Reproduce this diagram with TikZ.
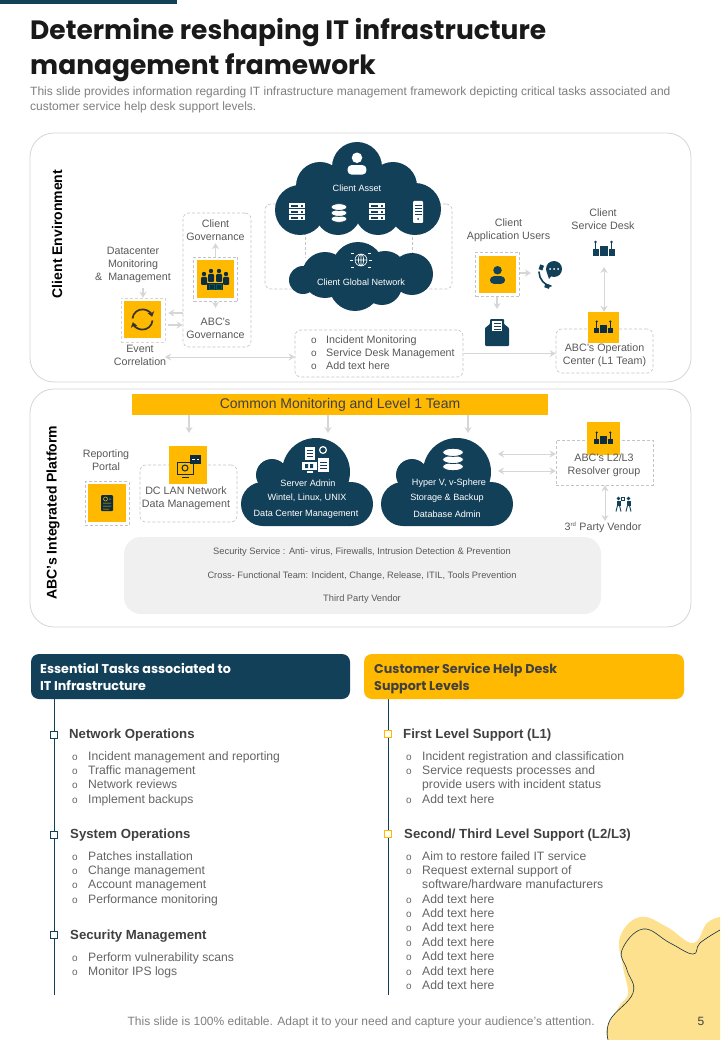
\documentclass[tikz,border=0pt]{standalone}
\usepackage{fontspec}
\setmainfont{Liberation Sans}
\newfontfamily\headfont{Poppins}
\usetikzlibrary{arrows.meta,positioning}
\definecolor{navy}{HTML}{134059}
\definecolor{gold}{HTML}{FFB900}
\definecolor{blob}{HTML}{FDE18F}
\definecolor{lightline}{HTML}{D6D6D6}
\definecolor{dashline}{HTML}{C4C4C4}
\definecolor{ink}{HTML}{404040}
\definecolor{midgray}{HTML}{595959}
\definecolor{softgray}{HTML}{7F7F7F}
\definecolor{padgray}{HTML}{F0F0F0}
\newcommand{\bul}{\makebox[16pt][l]{\fontsize{10}{10}\selectfont o}}
\tikzset{
  pics/person/.style={code={
    \fill[#1] (0,-5) circle (5);
    \fill[#1,rounded corners=4pt] (-9,11) -- (-9,2) -- (9,2) -- (9,11) -- cycle;
  }},
  pics/dbstack/.style={code={
    \foreach \yy in {7,0,-7} \filldraw[fill=#1,draw=navy,line width=.8pt] (0,\yy) ellipse (8 and 4);
  }},
  pics/rack/.style={code={
    \foreach \yy in {-6,0,6} {
      \fill[#1] (-8,\yy-2.5) rectangle (8,\yy+2.5);
      \fill[navy] (-6,\yy-1) rectangle (1,\yy+1);
      \fill[navy] (4,\yy-1) rectangle (6,\yy+1);
    }
  }},
  pics/towerbox/.style={code={
    \fill[#1,rounded corners=1pt] (-5,-11) rectangle (5,11);
    \foreach \yy in {-7,-4,-1,2} \fill[navy] (-3.5,\yy) rectangle (3.5,\yy+1);
    \fill[navy] (0,7) circle (1);
  }},
  pics/opsicon/.style={code={
    \fill[#1] (-4,-3) rectangle (4,7);
    \foreach \xx in {-8,8} {
      \fill[#1] (\xx-3,0) rectangle (\xx+3,7);
      \fill[#1] (\xx-.7,-6) rectangle (\xx+.7,0);
      \fill[#1] (\xx,-7) circle (1.4);
    }
  }},
  pics/crowd/.style={code={
    \foreach \xx/\yy in {-11/-2,-4/-5,4/-5,11/-2} {
      \fill[#1] (\xx,\yy-3) circle (2.2);
      \fill[#1,rounded corners=1pt] (\xx-3,\yy) rectangle (\xx+3,\yy+8);
    }
    \fill[#1] (-8,4) rectangle (8,11);
    \draw[teal!70!black,line width=.5pt] (-6,5) rectangle (-1,10) (1,5) rectangle (6,10);
  }},
  pics/sync/.style={code={
    \draw[#1,line width=1.7pt,-{Stealth[length=5pt,width=7pt]}] (-10,-1) arc[start angle=185,end angle=345,radius=10];
    \draw[#1,line width=1.7pt,-{Stealth[length=5pt,width=7pt]}] (10,1) arc[start angle=5,end angle=165,radius=10];
  }},
  pics/phone/.style={code={
    \fill[#1] (5,-5) circle (8);
    \fill[#1] (-2,-1) -- (0,5) -- (3,1) -- cycle;
    \foreach \xx in {1,5,9} \fill[white] (\xx,-5) circle (1);
    \draw[#1,line width=1.6pt,line cap=round] (-10,-2) .. controls (-10,5) and (-4,12) .. (2,12);
    \fill[#1,rotate=-20] (-11.5,-6) rectangle (-7.5,-1);
    \fill[#1,rotate=-20] (0,10) rectangle (5,14);
  }},
  pics/mailicon/.style={code={
    \fill[#1,rounded corners=1pt] (-12,-4) -- (-7,-8) -- (-7,-13) -- (7,-13) -- (7,-8) -- (12,-4) -- (12,14) -- (-12,14) -- cycle;
    \fill[white] (-5,-11) rectangle (5,-1);
    \foreach \yy in {-9,-6,-3} \fill[#1] (-3.5,\yy) rectangle (3.5,\yy+1);
  }},
  pics/reportdoc/.style={code={
    \fill[#1,rounded corners=1pt] (-6,-8) rectangle (6,8);
    \draw[gold,line width=.5pt] (-1.5,-4) circle (2) (2,-4) -- (4,-4) (-4,0) -- (4,0) (-4,3) -- (4,3) (-4,6) -- (2,6);
  }},
  pics/lanicon/.style={code={
    \draw[#1,line width=1pt] (-11,-3) rectangle (5,9) (-6,12) -- (1,12);
    \fill[gold] (-3,3) circle (3);
    \draw[#1,line width=1pt] (-3,3) circle (3);
    \fill[#1] (2,-10) rectangle (13,-1);
    \draw[white,line width=.6pt] (4,-6) -- (7,-6) (9,-6) -- (11,-6);
  }},
  pics/adminicon/.style={code={
    \fill[#1] (-11,-12) rectangle (-1,1);
    \fill[#1] (2,-1) rectangle (13,13);
    \draw[#1,line width=1.2pt] (7,-9) circle (3.4);
    \fill[#1] (-14,3) rectangle (1,11);
    \fill[navy] (-11,5) rectangle (-8,9) (-6,5) rectangle (-3,9);
    \draw[navy,line width=.5pt] (-9,-9) -- (-3,-9) (-9,-6) -- (-3,-6) (-9,-3) -- (-3,-3) (4,3) -- (11,3) (4,6) -- (11,6) (4,9) -- (11,9);
    \fill[#1] (-9,12) rectangle (-3,13.5);
  }},
  pics/globeicon/.style={code={
    \draw[#1,line width=.6pt] (0,0) circle (6) (0,0) ellipse (2.6 and 6) (-6,0) -- (6,0) (0,-6) -- (0,6);
    \draw[#1,line width=.6pt] (-10,-7) -- (-7,-7) (7,-7) -- (10,-7) (-10,7) -- (-7,7) (7,7) -- (10,7) (-11,0) -- (-8,0) (8,0) -- (11,0);
  }},
  pics/vendoricon/.style={code={
    \foreach \xx in {-5,5} {
      \fill[#1] (\xx,-5) circle (1.8);
      \fill[#1] (\xx-2,-3) rectangle (\xx+2,2);
      \draw[#1,line width=.9pt] (\xx-1,2) -- (\xx-2.5,8) (\xx+1,2) -- (\xx+2.5,8);
    }
    \draw[#1,line width=.6pt] (-2,-6) rectangle (1,-3);
  }}
}
\begin{document}
\begin{tikzpicture}[
  x=1pt,y=-1pt,
  panel/.style={draw=lightline,line width=.8pt,rounded corners=24pt,fill=white},
  ringbox/.style={draw=dashline,dash pattern=on 3pt off 2pt,line width=.6pt,rounded corners=6pt,inner sep=0pt},
  squarebox/.style={draw=dashline,dash pattern=on 3pt off 2pt,line width=.6pt,inner sep=0pt,minimum size=44pt},
  tile/.style={fill=gold,inner sep=0pt,minimum size=37pt},
  lbl/.style={font=\fontsize{10.7}{13}\selectfont,text=midgray,align=center,inner sep=0pt},
  cloudlbl/.style={font=\fontsize{9.1}{11}\selectfont,text=white,inner sep=0pt},
  sidelbl/.style={font=\fontsize{14}{16}\selectfont\bfseries,text=black,rotate=90,inner sep=0pt},
  padlbl/.style={font=\fontsize{9.3}{10}\selectfont,text=midgray,inner sep=0pt},
  cloudpart/.style={fill=navy},
  arr/.style={-{Stealth[length=6pt,width=7pt]},draw=lightline,line width=1.3pt},
  dbl/.style={{Stealth[length=6pt,width=7pt]}-{Stealth[length=6pt,width=7pt]},draw=lightline,line width=1pt},
  headbox/.style={rounded corners=8pt,minimum width=320pt,minimum height=45pt,inner sep=0pt},
  headtxt/.style={font=\headfont\fontsize{12.7}{17}\selectfont\bfseries,align=left,anchor=west,inner sep=0pt},
  sectxt/.style={font=\fontsize{13.2}{15}\selectfont\bfseries,text=ink,anchor=west,inner sep=0pt,text height=9pt,text depth=3pt,yshift=-1.6pt},
  listitem/.style={font=\fontsize{12.15}{14}\selectfont,text=softgray!80!black,anchor=west,inner sep=0pt,text height=9pt,text depth=3pt,yshift=-1.3pt},
  panelitem/.style={font=\fontsize{10.7}{13}\selectfont,text=midgray,anchor=west,inner sep=0pt,text height=8pt,text depth=2pt},
  marker/.style={fill=white,line width=.9pt,inner sep=0pt,minimum size=7pt}
]
\useasboundingbox (0,0) rectangle (720,1040);
\fill[white] (0,0) rectangle (720,1040);
\fill[navy] (0,0) rectangle (177,4);

\node[font=\headfont\fontsize{26.5}{35}\selectfont\bfseries,align=left,anchor=north west,inner sep=0pt,text=black!90] (title) at (30,18.5) {Determine reshaping IT infrastructure\\management framework};
\node[font=\fontsize{12}{14.5}\selectfont,text=softgray,align=left,anchor=north west,inner sep=0pt] (subtitle) at (30,87) {This slide provides information regarding IT infrastructure management framework depicting critical tasks associated and\\customer service help desk support levels.};

\node[panel,minimum width=661pt,minimum height=249pt] (panelclient) at (360.5,257.5) {};
\node[panel,minimum width=661pt,minimum height=238pt] (panelplatform) at (360.5,508) {};
\node[sidelbl] (clientside) at (57,234) {Client Environment};
\node[sidelbl] (platformside) at (53,512.5) {ABC’s Integrated Platform};

% client clouds
\node[ringbox,minimum width=187pt,minimum height=85pt] (assetring) at (358.5,246.5) {};
\coordinate (ringa) at (305,232);
\coordinate (ringb) at (305,258);
\coordinate (ringc) at (412,232);
\coordinate (ringd) at (412,258);
\draw[draw=dashline,dash pattern=on 3pt off 2pt,line width=.6pt] (ringa) -- (ringb) (ringc) -- (ringd);
\foreach \cx/\cy/\cr in {357/167/25,320/186/24,393/186/24,300/210/25,338/212/23,378/212/23,415/209/26,356/192/28}
  \fill[cloudpart] (\cx,\cy) circle (\cr);
\foreach \cx/\cy/\cr in {303/280/14,325/275/23,358/268/26,355/285/26,385/273/22,412/274/21,382/285/20}
  \fill[cloudpart] (\cx,\cy) circle (\cr);
\pic[scale=1.05] at (357,163) {person=white};
\node[cloudlbl] (assetlbl) at (357,188) {Client Asset};
\pic at (297,212) {rack=white};
\pic[yscale=.85] at (339,213) {dbstack=white};
\pic at (376.5,212) {rack=white};
\pic at (418,212) {towerbox=white};
\pic at (361,260) {globeicon=white};
\node[cloudlbl] (globallbl) at (361,282) {Client Global Network};

% governance
\node[ringbox,minimum width=68pt,minimum height=134pt] (govring) at (217,280) {};
\node[squarebox] (govframe) at (215.5,279.5) {};
\node[tile] (govtile) at (215,279) {};
\pic at (govtile) {crowd=navy!70!black};
\node[lbl,above=16pt of govframe] (clientgov) {Client\\Governance};
\node[lbl,below=16pt of govframe] (abcgov) {ABC’s\\Governance};
\draw[arr] (govframe.north) -- ++(0,-14);
\draw[arr] (govframe.south) -- ++(0,6);

% event correlation
\node[squarebox,draw=lightline] (syncframe) at (143,320) {};
\node[tile] (synctile) at (142.5,319.5) {};
\pic at (synctile) {sync=black!80};
\node[lbl] (dcmon) at (133,265) {Datacenter\\Monitoring\\\&\ \ Management};
\node[lbl,below=3pt of syncframe,xshift=-3pt] (eventcorr) {Event\\Correlation};
\coordinate (monend) at (143,288);
\draw[arr] (monend) -- (syncframe.north);
\draw[arr] ([yshift=7pt]govring.west |- syncframe.east) -- ([xshift=3pt,yshift=7pt]syncframe.east);
\draw[arr] ([xshift=3pt,yshift=-5pt]syncframe.east) -- ([yshift=-5pt]govring.west |- syncframe.east);

% incident list
\node[ringbox,minimum width=168pt,minimum height=47pt] (incidentbox) at (379,353.5) {};
\foreach \yy/\txt in {340/Incident Monitoring,353/Service Desk Management,366/Add text here}
  \node[panelitem] (incident\yy) at (311,\yy) {\makebox[15pt][l]{\fontsize{10}{10}\selectfont o}\txt};
\coordinate (corrend) at (165,357);
\draw[dbl] (corrend) -- (corrend -| incidentbox.west);

% application users
\node[squarebox] (appframe) at (497.5,274.5) {};
\node[tile] (apptile) at (497.5,274.5) {};
\pic[scale=.85] at (apptile) {person=navy};
\node[lbl,above=10pt of appframe,xshift=11pt] (appusers) {Client\\Application Users};
\pic at (549,274) {phone=navy};
\pic at (497,332) {mailicon=navy};
\coordinate (phoneend) at (531,273);
\coordinate (mailend) at (497,309);
\draw[arr] (appframe.east |- phoneend) -- (phoneend);
\draw[arr] (appframe.south -| mailend) -- (mailend);

% operation center
\node[ringbox,minimum width=97pt,minimum height=44pt] (opsbox) at (604.5,351) {};
\node[tile,minimum size=31pt] (opstile) at (603.5,327.5) {};
\pic[scale=.85] at (opstile) {opsicon=navy!70!black};
\node[lbl] (opslbl) at (604.5,355.5) {ABC’s Operation\\Center (L1 Team)};
\node[lbl] (desklbl) at (603,219.5) {Client\\Service Desk};
\pic at (603.5,249) {opsicon=navy};
\coordinate (deskend) at (604,267);
\draw[dbl] (deskend) -- (opstile.north -| deskend);
\draw[arr,line width=1pt] (incidentbox.east) -- (opsbox.west |- incidentbox.east);

% platform
\node[fill=gold,minimum width=416pt,minimum height=21pt,inner sep=0pt,font=\fontsize{14}{16}\selectfont,text=ink] (teambar) at (340,404.5) {Common Monitoring and Level 1 Team};
\node[lbl] (portal) at (106,460.5) {Reporting\\Portal};
\node[squarebox,minimum size=44pt] (portalframe) at (107,503.5) {};
\node[tile,minimum size=38pt] (portaltile) at (107,503) {};
\pic at (portaltile) {reportdoc=navy!70!black};

\node[ringbox,minimum width=97pt,minimum height=57pt] (lanbox) at (188.5,493.5) {};
\node[tile,minimum size=38pt] (lantile) at (188,465) {};
\pic at (lantile) {lanicon=navy!70!black};
\node[lbl] (lanlbl) at (186,498.5) {DC LAN Network\\Data Management};
\coordinate (lanend) at (189,433);
\draw[arr] (lanend |- teambar.south) -- (lanend);

\fill[cloudpart] (316,472) circle (34) (272,475) circle (16);
\fill[cloudpart,rounded corners=22pt] (241,482) rectangle (373,526);
\pic at (316,459) {adminicon=white};
\node[cloudlbl] (adminlbla) at (308,483) {Server Admin};
\node[cloudlbl] (adminlblb) at (307,498) {Wintel, Linux, UNIX};
\node[cloudlbl] (adminlblc) at (306,514) {Data Center Management};
\coordinate (adminend) at (328,433);
\draw[arr] (adminend |- teambar.south) -- (adminend);

\fill[cloudpart] (457,472) circle (34) (412,475) circle (16);
\fill[cloudpart,rounded corners=22pt] (381,482) rectangle (513,526);
\pic[xscale=1.3,yscale=1.02] at (453,459.5) {dbstack=white};
\node[cloudlbl] (hyperlbla) at (449,483) {Hyper V, v-Sphere};
\node[cloudlbl] (hyperlblb) at (447,498) {Storage \& Backup};
\node[cloudlbl] (hyperlblc) at (447,514) {Database Admin};
\coordinate (hyperend) at (468,433);
\draw[arr] (hyperend |- teambar.south) -- (hyperend);

\node[squarebox,minimum width=97pt,minimum height=45pt,] (resolverbox) at (604.5,462.5) {};
\node[tile,minimum size=33pt] (resolvertile) at (603.5,438.5) {};
\pic[scale=.85] at (resolvertile) {opsicon=navy!70!black};
\node[lbl] (resolverlbl) at (604,465.5) {ABC’s L2/L3\\Resolver group};
\coordinate (hypera) at (498,454);
\coordinate (hyperb) at (498,471);
\draw[dbl] (hypera) -- (hypera -| resolverbox.west);
\draw[dbl] (hyperb) -- (hyperb -| resolverbox.west);
\pic at (623.5,503.5) {vendoricon=navy};
\node[lbl] (vendorlbl) at (603,527) {3\textsuperscript{\fontsize{6}{6}\selectfont rd} Party Vendor};
\coordinate (vendorend) at (605,521);
\draw[dbl] (resolverbox.south -| vendorend) -- (vendorend);

\node[fill=padgray,rounded corners=17pt,minimum width=477pt,minimum height=77pt,inner sep=0pt] (secpad) at (362.5,575.5) {};
\node[padlbl] (padlbla) at (362,552) {Security Service : Anti- virus, Firewalls, Intrusion Detection \& Prevention};
\node[padlbl] (padlblb) at (362,576) {Cross- Functional Team: Incident, Change, Release, ITIL, Tools Prevention};
\node[padlbl] (padlblc) at (362,599) {Third Party Vendor};

% blob
\fill[blob] plot[smooth,tension=.7] coordinates {(608,1040) (607,1027) (620,1005) (628,993) (623,967) (620,937) (640,917) (667,927) (693,943) (707,923) (720,917)} -- (720,1040) -- cycle;
\draw[navy!80!black,line width=.6pt] plot[smooth,tension=.7] coordinates {(608,1040) (610,1020) (633,993) (627,970) (622,950) (643,929) (670,943) (693,954) (700,943) (720,930)};

% lower columns
\coordinate (railatop) at (54,699);
\coordinate (railaend) at (54,995);
\coordinate (railbtop) at (388,699);
\coordinate (railbend) at (388,995);
\draw[navy,line width=.9pt] (railatop) -- (railaend);
\draw[navy,line width=.9pt] (railbtop) -- (railbend);
\node[headbox,fill=navy,minimum width=319pt] (headleft) at (190.5,676.5) {};
\node[headtxt,text=white] (headlefttxt) at (40,677) {Essential Tasks associated to\\IT Infrastructure};
\node[headbox,fill=gold] (headright) at (524,676.5) {};
\node[headtxt,text=ink] (headrighttxt) at (374,678.5) {Customer Service Help Desk\\Support Levels};

\foreach \yy in {735,835,935} \node[marker,draw=navy] (marka\yy) at (54,\yy) {};
\foreach \yy in {734,834} \node[marker,draw=gold] (markb\yy) at (388,\yy) {};

\node[sectxt] (netops) at (69,734) {Network Operations};
\foreach \yy/\txt in {756/Incident management and reporting,770/Traffic management,784/Network reviews,799/Implement backups}
  \node[listitem] (netitem\yy) at (72,\yy) {\bul\txt};
\node[sectxt] (sysops) at (70,834) {System Operations};
\foreach \yy/\txt in {856/Patches installation,870/Change management,884/Account management,899/Performance monitoring}
  \node[listitem] (sysitem\yy) at (72,\yy) {\bul\txt};
\node[sectxt] (secmgmt) at (70,935) {Security Management};
\foreach \yy/\txt in {957/Perform vulnerability scans,971/Monitor IPS logs}
  \node[listitem] (secitem\yy) at (72,\yy) {\bul\txt};

\node[sectxt] (firstlvl) at (403,734) {First Level Support (L1)};
\foreach \yy/\txt in {756/Incident registration and classification,770/Service requests processes and,799/Add text here}
  \node[listitem] (firstitem\yy) at (406,\yy) {\bul\txt};
\node[listitem] (firstcont) at (422,784) {provide users with incident status};
\node[sectxt] (secondlvl) at (404,834) {Second/ Third Level Support (L2/L3)};
\foreach \yy/\txt in {856/Aim to restore failed IT service,870/Request external support of,899/Add text here,913/Add text here,927/Add text here,942/Add text here,956/Add text here,971/Add text here,985/Add text here}
  \node[listitem] (seconditem\yy) at (406,\yy) {\bul\txt};
\node[listitem] (secondcont) at (422,884) {software/hardware manufacturers};

\node[font=\fontsize{12}{14}\selectfont,text=softgray,anchor=east,inner sep=0pt] (footer) at (595,1022) {This slide is 100\% editable. Adapt it to your need and capture your audience’s attention.};
\node[font=\fontsize{12}{14}\selectfont,text=ink,inner sep=0pt] (pagenum) at (701,1021) {5};
\end{tikzpicture}
\end{document}
